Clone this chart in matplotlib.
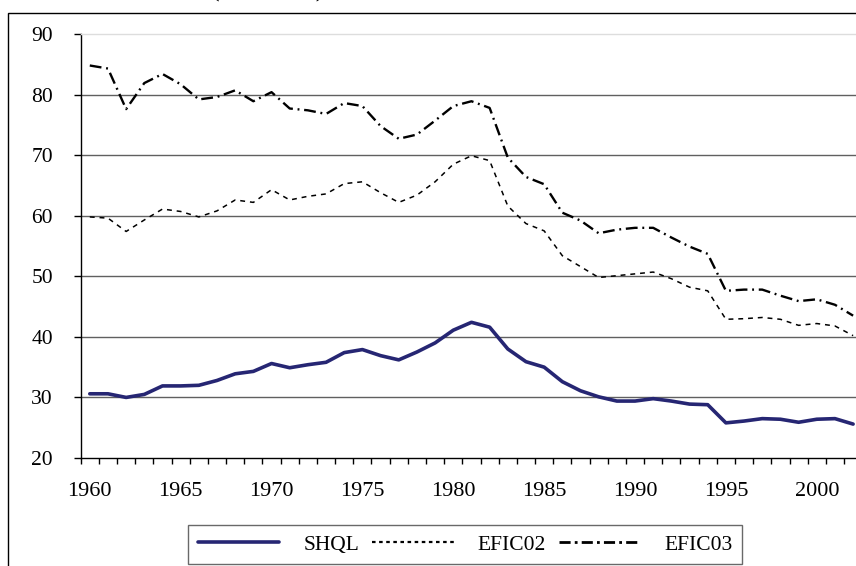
import matplotlib
matplotlib.use("Agg")
import matplotlib.pyplot as plt
from matplotlib.lines import Line2D
from matplotlib.patches import Rectangle
import numpy as np

plt.rcParams['font.family'] = ['Liberation Serif', 'DejaVu Serif']

years = list(range(1960, 2003))
year_labels = ['1960', '1965', '1970', '1975', '1980', '1985', '1990', '1995', '2000']

shql = [30.6, 30.6, 30.0, 30.5, 31.9, 31.9, 32.0, 32.8, 33.9, 34.3,
        35.6, 34.9, 35.4, 35.8, 37.4, 37.9, 36.9, 36.2, 37.5, 39.0,
        41.1, 42.4, 41.6, 38.0, 35.9, 35.0, 32.6, 31.1, 30.1, 29.4,
        29.4, 29.8, 29.4, 28.9, 28.8, 25.8, 26.1, 26.5, 26.4, 25.9,
        26.4, 26.5, 25.6]
efic02 = [59.8, 59.6, 57.4, 59.3, 61.1, 60.7, 59.8, 60.8, 62.6, 62.2,
          64.3, 62.6, 63.2, 63.6, 65.3, 65.6, 63.8, 62.2, 63.4, 65.6,
          68.5, 69.9, 69.1, 61.6, 58.7, 57.5, 53.4, 51.6, 49.8, 50.1,
          50.4, 50.7, 49.6, 48.2, 47.6, 42.9, 43.0, 43.2, 42.9, 41.9,
          42.2, 41.8, 40.2]
efic03 = [84.8, 84.3, 77.6, 81.9, 83.4, 81.7, 79.2, 79.6, 80.7, 78.9,
          80.4, 77.7, 77.4, 76.8, 78.6, 78.1, 74.8, 72.7, 73.4, 75.7,
          78.1, 78.9, 77.8, 69.6, 66.4, 65.2, 60.5, 59.2, 57.1, 57.7,
          58.0, 58.0, 56.4, 54.9, 53.7, 47.6, 47.8, 47.8, 46.8, 45.9,
          46.2, 45.3, 43.5]
series_names = ['SHQL', 'EFIC02', 'EFIC03']
y_ticks = [20, 30, 40, 50, 60, 70, 80, 90]

W, H = 856, 566
fig = plt.figure(figsize=(W / 100, H / 100), dpi=100)

# axes rectangle in pixels (plot extends a bit past the right edge, as in the crop)
left_px, right_px, top_px, bottom_px = 80.7, 862.2, 34, 458
ax = fig.add_axes([left_px / W, 1 - bottom_px / H,
                   (right_px - left_px) / W, (bottom_px - top_px) / H])

x = np.arange(len(years))
navy = '#262673'
dash02 = (3.2, 3.2)
dash03 = (5, 2, 0.8, 2)
l1, = ax.plot(x, shql, color=navy, lw=2.6, solid_joinstyle='round',
              solid_capstyle='round', zorder=4)
l2, = ax.plot(x, efic02, color='black', lw=1.1, zorder=3)
l2.set_dashes(dash02)
l3, = ax.plot(x, efic03, color='black', lw=1.7, zorder=3)
l3.set_dashes(dash03)

ax.set_xlim(-0.5, len(years) - 0.5)
ax.set_ylim(20, 90)

# gridlines
for v in y_ticks[1:-1]:
    ax.axhline(v, color='#606060', lw=1.0, zorder=1)

ax.set_yticks(y_ticks)
ax.set_yticklabels([str(v) for v in y_ticks])
ax.tick_params(axis='y', direction='out', length=5, width=1, pad=15,
               labelsize=15.5, color='black')

# category boundary ticks (major) and labels at centres (minor)
ax.set_xticks(np.arange(-0.5, len(years), 1.0))
ax.set_xticklabels([])
ax.tick_params(axis='x', which='major', direction='out', length=4, width=1)
label_pos = [years.index(int(s)) for s in year_labels]
ax.set_xticks(label_pos, minor=True)
ax.set_xticklabels(year_labels, minor=True)
ax.tick_params(axis='x', which='minor', length=0, pad=17, labelsize=16)

for s in ['left', 'bottom']:
    ax.spines[s].set_color('black')
    ax.spines[s].set_linewidth(1.0)
ax.spines['top'].set_color('#dddddd')
ax.spines['top'].set_linewidth(1.0)
ax.spines['right'].set_visible(False)

# chart border (cropped at right and bottom)
fig.add_artist(Rectangle((8 / W, -0.2), 1.2, 1 - 13 / H + 0.2,
                         transform=fig.transFigure, fill=False,
                         edgecolor='black', lw=1.0, clip_on=False))

# title, mostly cut off at the top edge
fig.text(268 / W, 1 + 2.5 / H, '(1960-2002)', ha='center', va='baseline',
         fontsize=16, fontweight='bold')

handles = [Line2D([], [], color=navy, lw=2.6, solid_capstyle='round'),
           Line2D([], [], color='black', lw=1.6, dashes=(1.6, 1.6)),
           Line2D([], [], color='black', lw=2.0, dashes=(4, 1.5, 1, 1.5))]
leg = fig.legend(handles, series_names, ncol=3, loc='upper left',
                 bbox_to_anchor=(188 / W, 1 - 525 / H), borderaxespad=0,
                 frameon=True, fancybox=False, edgecolor='#444444',
                 fontsize=15.5, handlelength=3.8, handletextpad=1.1,
                 columnspacing=0.6, borderpad=0.45)
leg.get_frame().set_linewidth(1.0)

fig.savefig('out.png', dpi=100)
